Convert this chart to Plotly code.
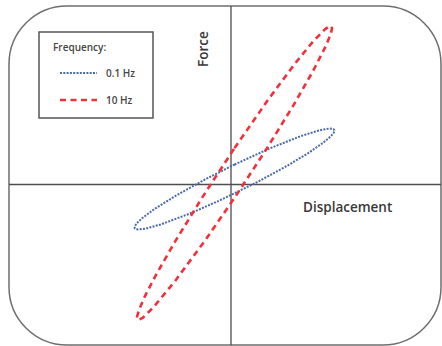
import numpy as np
import plotly.graph_objects as go

# Steady-state sinusoidal loading: force vs displacement loops at two frequencies
frequencies = ["0.1 Hz", "10 Hz"]
disp_amplitude = [1.00, 0.975]    # normalised displacement amplitude
force_amplitude = [0.505, 1.47]   # normalised force amplitude
phase_lag = [0.29, 0.17]          # rad, force leads displacement
disp_offset = [0.035, 0.035]
force_offset = [0.055, 0.115]

styles = [
    dict(color="#4a6aa8", width=2.0, dash="2px,1.3px"),
    dict(color="#f2303a", width=2.6, dash="6px,4.5px"),
]

W, H = 442, 346
X_RANGE = [-2.31, 2.11]
Y_RANGE = [-1.615, 1.845]

fig = go.Figure()

t = np.linspace(0, 2 * np.pi, 721)
for name, a, b, phi, x0, y0, st in zip(frequencies, disp_amplitude, force_amplitude,
                                         phase_lag, disp_offset, force_offset, styles):
    fig.add_trace(go.Scatter(
        x=x0 + a * np.sin(t),
        y=y0 + b * np.sin(t + phi),
        mode="lines", name=name, line=st, showlegend=False,
        hoverinfo="skip",
    ))


def px(x):
    return x / W


def py(y):
    return 1 - y / H


def rounded_rect(left, top, right, bottom, r):
    k = 0.5523 * r
    pts = [
        f"M {px(left + r)},{py(top)}",
        f"L {px(right - r)},{py(top)}",
        f"C {px(right - r + k)},{py(top)} {px(right)},{py(top + r - k)} {px(right)},{py(top + r)}",
        f"L {px(right)},{py(bottom - r)}",
        f"C {px(right)},{py(bottom - r + k)} {px(right - r + k)},{py(bottom)} {px(right - r)},{py(bottom)}",
        f"L {px(left + r)},{py(bottom)}",
        f"C {px(left + r - k)},{py(bottom)} {px(left)},{py(bottom - r + k)} {px(left)},{py(bottom - r)}",
        f"L {px(left)},{py(top + r)}",
        f"C {px(left)},{py(top + r - k)} {px(left + r - k)},{py(top)} {px(left + r)},{py(top)}",
        "Z",
    ]
    return " ".join(pts)


axis_col = "#4d4d4d"
shapes = [
    # frame
    dict(type="path", xref="paper", yref="paper",
         path=rounded_rect(9, 6, 441, 345, 58),
         line=dict(color="#6e6e6e", width=1.5), fillcolor="rgba(0,0,0,0)", layer="below"),
    # force axis
    dict(type="line", xref="x", yref="paper", x0=0, x1=0, y0=py(6), y1=py(345),
         line=dict(color=axis_col, width=1.3), layer="below"),
    # displacement axis
    dict(type="line", xref="paper", yref="y", x0=px(9), x1=px(441), y0=0, y1=0,
         line=dict(color=axis_col, width=1.3), layer="below"),
    # legend box
    dict(type="rect", xref="paper", yref="paper",
         x0=px(39), x1=px(153), y0=py(32), y1=py(118),
         line=dict(color="#555555", width=1.5), fillcolor="white"),
]
legend_rows = [73, 100]
for yy, st in zip(legend_rows, styles):
    shapes.append(dict(type="line", xref="paper", yref="paper",
                       x0=px(60), x1=px(97), y0=py(yy), y1=py(yy), line=st))

font_main = "'Open Sans', Lato, sans-serif"
legend_font = dict(size=10, color="#454545", family=font_main, weight=600)
annotations = [
    dict(text="Frequency:", x=px(51), y=py(47), xanchor="left", yanchor="middle",
         font=legend_font),
]
for yy, name in zip(legend_rows, frequencies):
    annotations.append(dict(text=name, x=px(104), y=py(yy), xanchor="left", yanchor="middle",
                            font=legend_font))
annotations += [
    dict(text="Force", x=px(203), y=py(49), xanchor="center", yanchor="middle", textangle=-90,
         font=dict(size=13.5, color="#383838", family=font_main, weight=600)),
    dict(text="Displacement", x=px(347), y=py(207), xanchor="center", yanchor="middle",
         font=dict(size=13.5, color="#383838", family=font_main, weight=600)),
]
for a in annotations:
    a.update(xref="paper", yref="paper", showarrow=False)

fig.update_layout(
    width=W, height=H,
    margin=dict(l=0, r=0, t=0, b=0),
    paper_bgcolor="white", plot_bgcolor="white",
    xaxis=dict(range=X_RANGE, visible=False, fixedrange=True),
    yaxis=dict(range=Y_RANGE, visible=False, fixedrange=True),
    shapes=shapes, annotations=annotations,
    showlegend=False,
)

fig.write_html("out.html")
